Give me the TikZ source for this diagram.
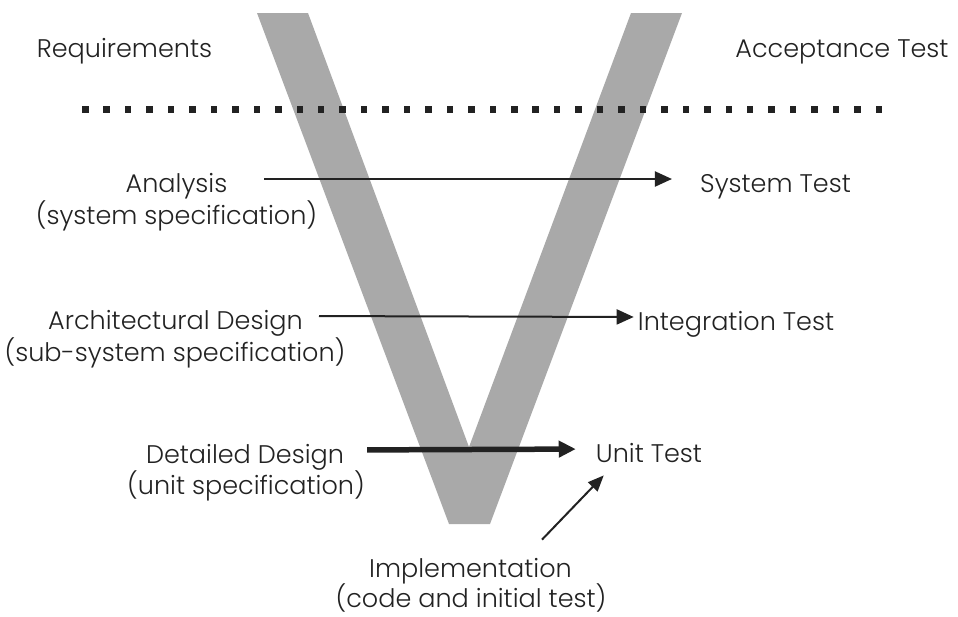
\documentclass[tikz,border=0pt]{standalone}
\usepackage{fontspec}
\setmainfont{Poppins}[UprightFont=*-Light]
\usetikzlibrary{arrows.meta,calc}
\definecolor{vgray}{HTML}{A9A9A9}
\definecolor{ink}{HTML}{222222}
\begin{document}
\begin{tikzpicture}[x=1pt,y=-1pt,
  lbl/.style={inner sep=0pt,anchor=base,text=ink,font=\fontsize{25.5}{30}\selectfont},
  arr/.style={draw=ink,line width=2pt,-{Triangle[length=17pt,width=15pt]}},
  arrthick/.style={arr,line width=5.5pt,-{Triangle[length=17pt,width=16pt]}}]
\useasboundingbox (0,0) rectangle (958,616);
% V shape
\fill[vgray] (257,13) -- (308,13) -- (469,447) -- (631,13) -- (682,13) -- (490,524) -- (449,524) -- cycle;
% dotted separator
\foreach \i in {0,...,37} \fill[ink] (82+\i*21.45,106) rectangle ++(6.5,6.5);
% labels
\node[lbl] (req) at (124.5,57) {Requirements};
\node[lbl] (acc) at (842,57) {Acceptance Test};
\node[lbl] (ana) at (176.5,192) {Analysis};
\node[lbl] (anas) at (176.5,224) {(system specification)};
\node[lbl] (syst) at (775.5,192) {System Test};
\node[lbl] (arch) at (175.5,329) {Architectural Design};
\node[lbl] (archs) at (175,361) {(sub-system specification)};
\node[lbl] (intt) at (736,330) {Integration Test};
\node[lbl] (det) at (245,463) {Detailed Design};
\node[lbl] (dets) at (246,494) {(unit specification)};
\node[lbl] (unit) at (649,462) {Unit Test};
\node[lbl] (impl) at (470.5,577) {Implementation};
\node[lbl] (impls) at (471,607) {(code and initial test)};
% connectors
\draw[arr,shorten <=37pt,shorten >=28pt] ([yshift=13pt]ana.base east) -- ([yshift=13pt]syst.base west);
\draw[arr,shorten <=16pt,shorten >=4pt] ([yshift=13pt]arch.base east) -- ([yshift=13pt]intt.base west);
\draw[arrthick,shorten <=23pt,shorten >=20pt] ([yshift=13pt]det.base east) -- ([yshift=13pt]unit.base west);
\draw[arr,-{Triangle[length=16pt,width=13pt]}] ([xshift=-30pt,yshift=18pt]impl.north east) -- ([xshift=8pt,yshift=-13pt]unit.south west);
\end{tikzpicture}
\end{document}
